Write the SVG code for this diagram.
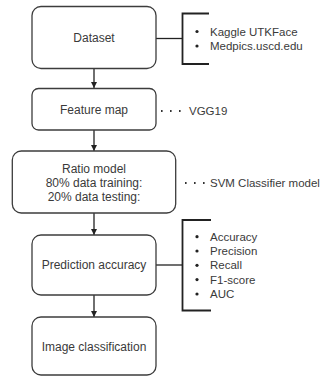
<svg xmlns="http://www.w3.org/2000/svg" width="326" height="377" viewBox="0 0 326 377">
<defs>
<style>
.box{fill:#fff;stroke:#3c3c3c;stroke-width:1.3}
.t{font-family:"Liberation Sans",Arial,sans-serif;font-size:12px;fill:#3a3a3a;text-anchor:middle;dominant-baseline:central}
.s{font-family:"Liberation Sans",Arial,sans-serif;font-size:11.5px;fill:#3a3a3a;dominant-baseline:central}
.c{fill:none;stroke:#222;stroke-width:1.3}
.br{fill:none;stroke:#222;stroke-width:1.8}
.dot{fill:none;stroke:#333;stroke-width:1.8;stroke-dasharray:1.6 7.4}
.b{fill:#222}
</style>
<marker id="ah" viewBox="0 0 10 10" refX="10" refY="5" markerWidth="6" markerHeight="6" markerUnits="userSpaceOnUse" orient="auto">
<path d="M0,0 L10,5 L0,10 Z" fill="#222"/>
</marker>
</defs>
<rect width="326" height="377" fill="#fff"/>
<g id="connectors">
<path class="c" d="M94,69 V88" marker-end="url(#ah)"/>
<path class="c" d="M94,130 V151" marker-end="url(#ah)"/>
<path class="c" d="M94,213 V235" marker-end="url(#ah)"/>
<path class="c" d="M94,295 V317" marker-end="url(#ah)"/>
<path class="c" d="M156,38.5 H182.5"/>
<path class="br" d="M209,13.5 H182.5 V64 H209"/>
<path class="c" d="M156,265 H182.5"/>
<path class="br" d="M211,220 H182.5 V310.5 H211"/>
<path class="dot" d="M161,111 H186"/>
<path class="dot" d="M185,183 H208"/>
</g>
<g id="dataset">
<rect class="box" x="32" y="6.5" width="124" height="62" rx="9"/>
<text class="t" x="94" y="38">Dataset</text>
</g>
<g id="feature-map">
<rect class="box" x="32" y="88.5" width="124" height="41.5" rx="6.5"/>
<text class="t" x="94" y="110">Feature map</text>
</g>
<g id="ratio-model">
<rect class="box" x="12.3" y="151" width="163.4" height="62" rx="9"/>
<text class="t" x="94" y="169">Ratio model</text>
<text class="t" x="94" y="183">80% data training:</text>
<text class="t" x="94" y="197">20% data testing:</text>
</g>
<g id="prediction-accuracy">
<rect class="box" x="32" y="235" width="124" height="60" rx="9"/>
<text class="t" x="94" y="265">Prediction accuracy</text>
</g>
<g id="image-classification">
<rect class="box" x="32" y="317" width="124" height="58" rx="9"/>
<text class="t" x="94" y="347">Image classification</text>
</g>
<g id="dataset-sources">
<circle class="b" cx="197" cy="31.5" r="1.6"/>
<circle class="b" cx="197" cy="46" r="1.6"/>
<text class="s" x="210" y="31.5">Kaggle UTKFace</text>
<text class="s" x="210" y="46">Medpics.uscd.edu</text>
</g>
<g id="vgg19">
<text class="s" x="189" y="111">VGG19</text>
</g>
<g id="svm">
<text class="s" x="210" y="183">SVM Classifier model</text>
</g>
<g id="metrics">
<circle class="b" cx="197" cy="236.7" r="1.6"/>
<circle class="b" cx="197" cy="251" r="1.6"/>
<circle class="b" cx="197" cy="265.3" r="1.6"/>
<circle class="b" cx="197" cy="279.6" r="1.6"/>
<circle class="b" cx="197" cy="294" r="1.6"/>
<text class="s" x="210" y="236.7">Accuracy</text>
<text class="s" x="210" y="251">Precision</text>
<text class="s" x="210" y="265.3">Recall</text>
<text class="s" x="210" y="279.6">F1-score</text>
<text class="s" x="210" y="294">AUC</text>
</g>
</svg>
